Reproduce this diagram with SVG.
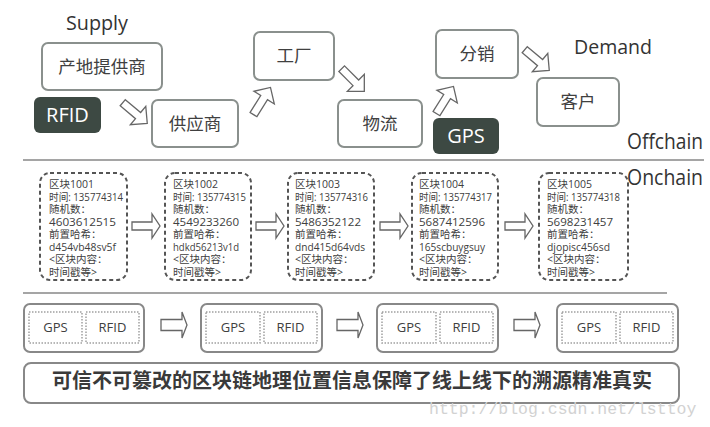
<svg xmlns="http://www.w3.org/2000/svg" xmlns:xlink="http://www.w3.org/1999/xlink" width="710" height="427" viewBox="0 0 710 427">
<style>
.box{fill:#fff;stroke:#8a908d;stroke-width:2}
.dark{fill:#3d4943;stroke:none}
.lbl{font-family:"Noto Sans CJK SC","Open Sans",sans-serif;font-size:17.5px;fill:#404040;text-anchor:middle}
.wl{font-family:"Open Sans","Noto Sans CJK SC",sans-serif;font-size:20px;fill:#fff;text-anchor:middle}
.en{font-family:"Open Sans",sans-serif;fill:#333}
.blk{fill:#fff;stroke:#555;stroke-width:2;stroke-dasharray:4 3}
.bt{font-family:"Open Sans","Noto Sans CJK SC",sans-serif;font-size:10.5px;fill:#404040}
.arr{fill:#fff;stroke:#666;stroke-width:1.3;stroke-linejoin:miter}
.sep{stroke:#a5a5a5;stroke-width:2}
.ob{fill:#fff;stroke:#888;stroke-width:2}
.ib{fill:none;stroke:#a0a0a0;stroke-width:1.5;stroke-dasharray:1.5 1.5}
.st{font-family:"Open Sans",sans-serif;font-size:13px;fill:#404040;text-anchor:middle}
</style>
<defs>
<path id="darr" d="M-16,-4 H4 V-12 L16,0 L4,12 V4 H-16 Z"/>
<path id="harr" d="M-14,-4 H6 V-12 L14,0 L6,12 V4 H-14 Z"/>
<path id="barr" d="M-13,-5.5 H8 V-13 L13,0 L8,13 V5.5 H-13 Z"/>
</defs>

<text class="en" x="66" y="30" font-size="20" textLength="62" lengthAdjust="spacingAndGlyphs">Supply</text>
<text class="en" x="574" y="54" font-size="20" textLength="78" lengthAdjust="spacingAndGlyphs">Demand</text>
<text class="en" x="627" y="149" font-size="21" textLength="76" lengthAdjust="spacingAndGlyphs">Offchain</text>
<text class="en" x="627" y="185" font-size="21" textLength="76" lengthAdjust="spacingAndGlyphs">Onchain</text>

<g id="n-origin"><rect class="box" x="42" y="43" width="120" height="47" rx="6"/><text class="lbl" x="102" y="73">产地提供商</text></g>
<g id="n-rfid"><rect class="dark" x="34" y="97" width="67" height="36" rx="6"/><text class="wl" x="67.5" y="122">RFID</text></g>
<g id="n-supplier"><rect class="box" x="152" y="100" width="86" height="47" rx="6"/><text class="lbl" x="195" y="130">供应商</text></g>
<g id="n-factory"><rect class="box" x="254" y="32" width="80" height="48" rx="6"/><text class="lbl" x="294" y="62">工厂</text></g>
<g id="n-logistics"><rect class="box" x="338" y="100" width="84" height="47" rx="6"/><text class="lbl" x="380" y="130">物流</text></g>
<g id="n-gps"><rect class="dark" x="433" y="118" width="66" height="36" rx="6"/><text class="wl" x="466" y="143">GPS</text></g>
<g id="n-dist"><rect class="box" x="436" y="30" width="82" height="48" rx="6"/><text class="lbl" x="477" y="60">分销</text></g>
<g id="n-customer"><rect class="box" x="537" y="78" width="82" height="48" rx="6"/><text class="lbl" x="578" y="108">客户</text></g>

<g id="connectors">
<use href="#darr" class="arr" transform="translate(135,113) rotate(40)"/>
<use href="#darr" class="arr" transform="translate(262,101) rotate(-58)"/>
<use href="#darr" class="arr" transform="translate(353,80) rotate(45)"/>
<use href="#darr" class="arr" transform="translate(445,100) rotate(-58)"/>
<use href="#darr" class="arr" transform="translate(537,60) rotate(40)"/>
<use href="#harr" class="arr" transform="translate(146,226)"/>
<use href="#harr" class="arr" transform="translate(270,226)"/>
<use href="#harr" class="arr" transform="translate(394,226)"/>
<use href="#harr" class="arr" transform="translate(519,226)"/>
<use href="#barr" class="arr" transform="translate(174,325)"/>
<use href="#barr" class="arr" transform="translate(350,325)"/>
<use href="#barr" class="arr" transform="translate(527,325)"/>
</g>

<line class="sep" x1="23" y1="160" x2="704" y2="160"/>
<line class="sep" x1="23" y1="293" x2="667" y2="293"/>

<g id="b1001"><rect class="blk" x="40" y="173" width="87" height="107" rx="10"/>
<text class="bt"><tspan x="49" y="188">区块1001</tspan><tspan x="49" y="200.5" textLength="74" lengthAdjust="spacingAndGlyphs">时间: 135774314</tspan><tspan x="49" y="213">随机数：</tspan><tspan x="49" y="225.5" textLength="67" lengthAdjust="spacingAndGlyphs">4603612515</tspan><tspan x="49" y="238">前置哈希：</tspan><tspan x="49" y="250.5" textLength="67" lengthAdjust="spacingAndGlyphs">d454vb48sv5f</tspan><tspan x="49" y="263">&lt;区块内容：</tspan><tspan x="49" y="275.5">时间戳等&gt;</tspan></text></g>
<g id="b1002"><rect class="blk" x="165" y="173" width="86" height="107" rx="10"/>
<text class="bt"><tspan x="173" y="188">区块1002</tspan><tspan x="173" y="200.5" textLength="73" lengthAdjust="spacingAndGlyphs">时间: 135774315</tspan><tspan x="173" y="213">随机数：</tspan><tspan x="173" y="225.5" textLength="66" lengthAdjust="spacingAndGlyphs">4549233260</tspan><tspan x="173" y="238">前置哈希：</tspan><tspan x="173" y="250.5" textLength="66" lengthAdjust="spacingAndGlyphs">hdkd56213v1d</tspan><tspan x="173" y="263">&lt;区块内容：</tspan><tspan x="173" y="275.5">时间戳等&gt;</tspan></text></g>
<g id="b1003"><rect class="blk" x="288" y="173" width="86" height="107" rx="10"/>
<text class="bt"><tspan x="295" y="188">区块1003</tspan><tspan x="295" y="200.5" textLength="73" lengthAdjust="spacingAndGlyphs">时间: 135774316</tspan><tspan x="295" y="213">随机数：</tspan><tspan x="295" y="225.5" textLength="66" lengthAdjust="spacingAndGlyphs">5486352122</tspan><tspan x="295" y="238">前置哈希：</tspan><tspan x="295" y="250.5" textLength="70" lengthAdjust="spacingAndGlyphs">dnd415d64vds</tspan><tspan x="295" y="263">&lt;区块内容：</tspan><tspan x="295" y="275.5">时间戳等&gt;</tspan></text></g>
<g id="b1004"><rect class="blk" x="412" y="173" width="86" height="107" rx="10"/>
<text class="bt"><tspan x="419" y="188">区块1004</tspan><tspan x="419" y="200.5" textLength="73" lengthAdjust="spacingAndGlyphs">时间: 135774317</tspan><tspan x="419" y="213">随机数：</tspan><tspan x="419" y="225.5" textLength="66" lengthAdjust="spacingAndGlyphs">5687412596</tspan><tspan x="419" y="238">前置哈希：</tspan><tspan x="419" y="250.5" textLength="66" lengthAdjust="spacingAndGlyphs">165scbuygsuy</tspan><tspan x="419" y="263">&lt;区块内容：</tspan><tspan x="419" y="275.5">时间戳等&gt;</tspan></text></g>
<g id="b1005"><rect class="blk" x="539" y="173" width="89" height="107" rx="10"/>
<text class="bt"><tspan x="547" y="188">区块1005</tspan><tspan x="547" y="200.5" textLength="73" lengthAdjust="spacingAndGlyphs">时间: 135774318</tspan><tspan x="547" y="213">随机数：</tspan><tspan x="547" y="225.5" textLength="66" lengthAdjust="spacingAndGlyphs">5698231457</tspan><tspan x="547" y="238">前置哈希：</tspan><tspan x="547" y="250.5" textLength="63" lengthAdjust="spacingAndGlyphs">djopisc456sd</tspan><tspan x="547" y="263">&lt;区块内容：</tspan><tspan x="547" y="275.5">时间戳等&gt;</tspan></text></g>

<g id="s1"><rect class="ob" x="24" y="304" width="120" height="48" rx="6"/><rect class="ib" x="29" y="312" width="53" height="31"/><rect class="ib" x="86" y="312" width="53" height="31"/><text class="st" x="55.5" y="332">GPS</text><text class="st" x="112.5" y="332">RFID</text></g>
<g id="s2"><rect class="ob" x="201" y="304" width="121" height="48" rx="6"/><rect class="ib" x="206" y="312" width="54" height="31"/><rect class="ib" x="264" y="312" width="53" height="31"/><text class="st" x="233" y="332">GPS</text><text class="st" x="290.5" y="332">RFID</text></g>
<g id="s3"><rect class="ob" x="377" y="304" width="121" height="48" rx="6"/><rect class="ib" x="382" y="312" width="54" height="31"/><rect class="ib" x="440" y="312" width="53" height="31"/><text class="st" x="409" y="332">GPS</text><text class="st" x="466.5" y="332">RFID</text></g>
<g id="s4"><rect class="ob" x="557" y="304" width="121" height="48" rx="6"/><rect class="ib" x="562" y="312" width="54" height="31"/><rect class="ib" x="620" y="312" width="53" height="31"/><text class="st" x="589" y="332">GPS</text><text class="st" x="646.5" y="332">RFID</text></g>

<g id="banner"><rect class="ob" x="24" y="363" width="655" height="40" rx="7"/>
<text x="352" y="388" text-anchor="middle" font-family="Noto Sans CJK SC, sans-serif" font-size="20" font-weight="bold" fill="#3a3a3a">可信不可篡改的区块链地理位置信息保障了线上线下的溯源精准真实</text></g>

<text x="429" y="414" font-family="Liberation Mono, monospace" font-size="16.5" fill="#d2d2d2">http://blog.csdn.net/lsttoy</text>
</svg>
